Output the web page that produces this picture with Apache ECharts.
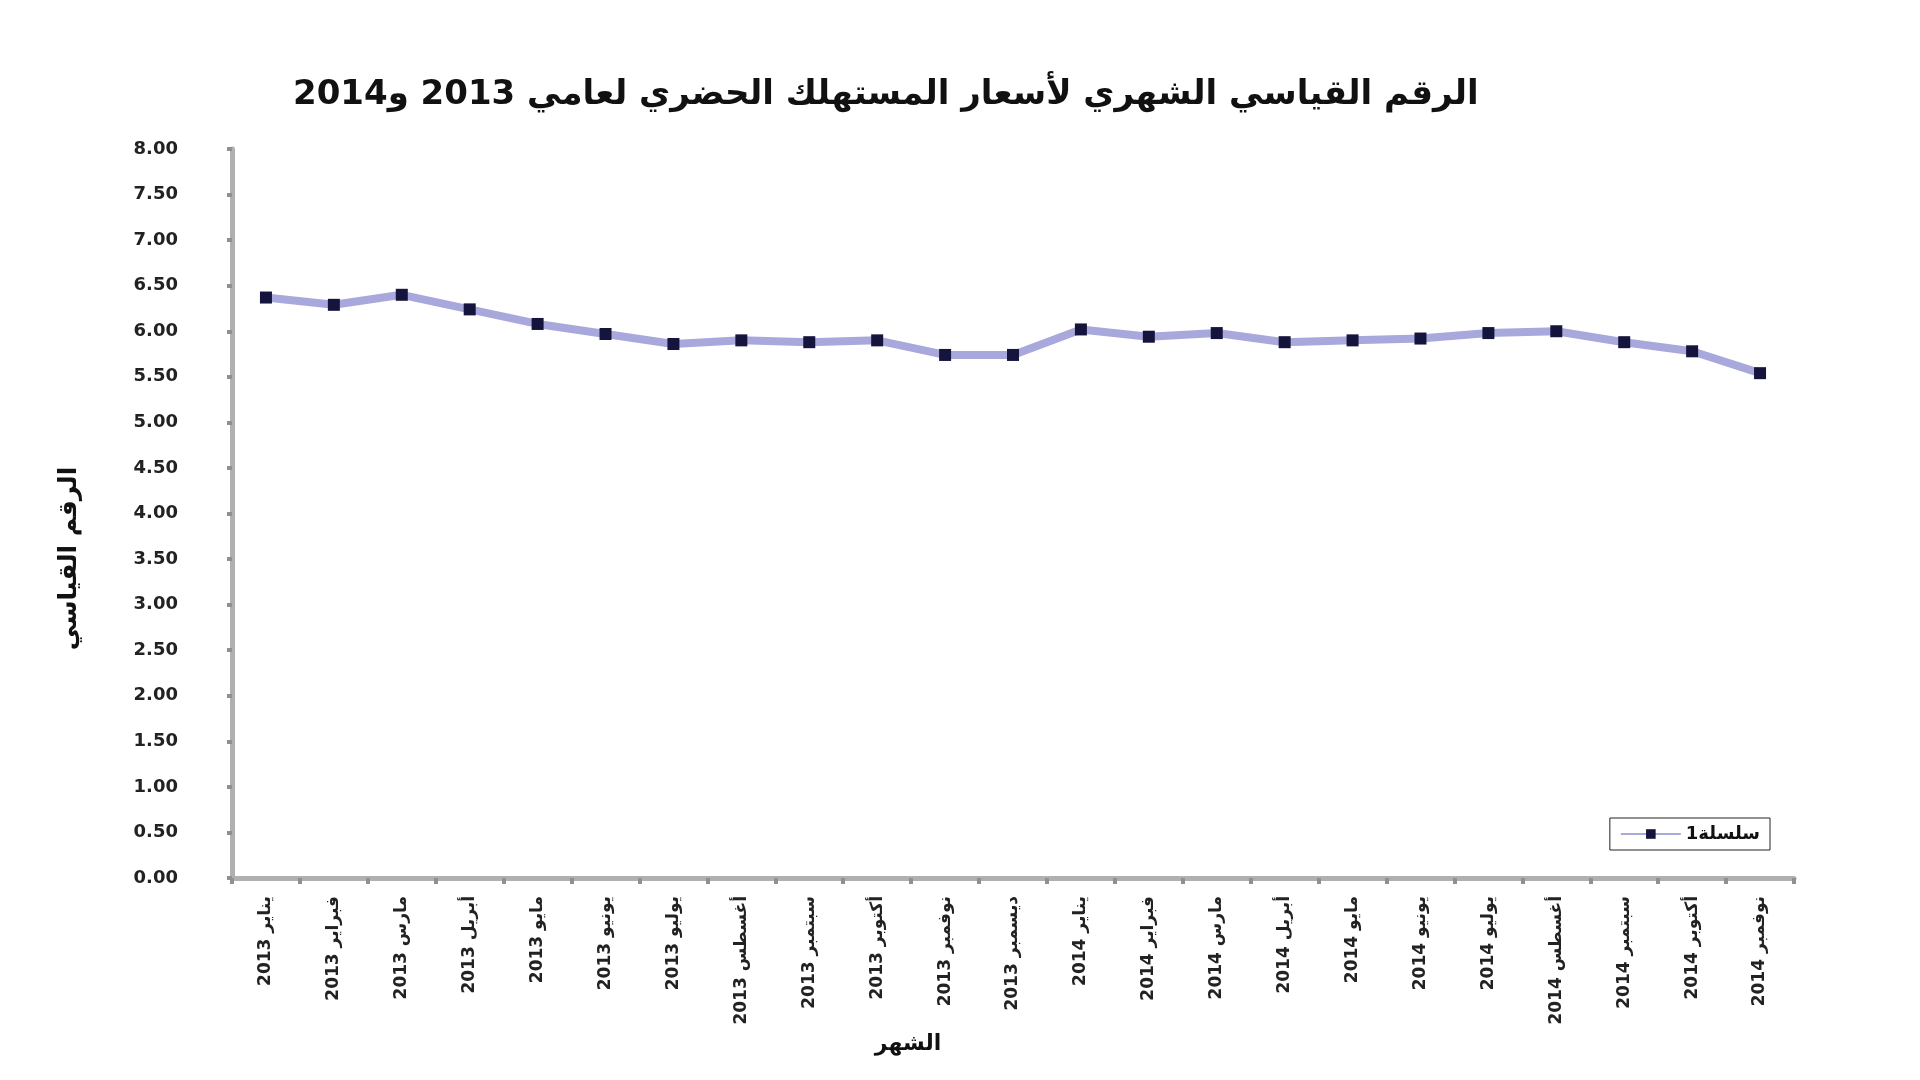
<!DOCTYPE html>
<html>
<head>
<meta charset="utf-8">
<script src="https://cdn.jsdelivr.net/npm/echarts@6/dist/echarts.min.js"></script>
<style>html,body{margin:0;padding:0;background:#fff}#c{width:1920px;height:1080px}</style>
</head>
<body>
<div id="c"></div>
<script>
const titleText = 'الرقم القياسي الشهري لأسعار المستهلك الحضري لعامي 2013 و2014';
const yAxisName = 'الرقم القياسي';
const xAxisName = 'الشهر';
const seriesName = 'سلسلة1';
const categories = [
  'يناير 2013','فبراير 2013','مارس 2013','أبريل 2013','مايو 2013','يونيو 2013',
  'يوليو 2013','أغسطس 2013','سبتمبر 2013','أكتوبر 2013','نوفمبر 2013','ديسمبر 2013',
  'يناير 2014','فبراير 2014','مارس 2014','أبريل 2014','مايو 2014','يونيو 2014',
  'يوليو 2014','أغسطس 2014','سبتمبر 2014','أكتوبر 2014','نوفمبر 2014'
];
const values = [6.37, 6.29, 6.40, 6.24, 6.08, 5.97, 5.86, 5.90, 5.88, 5.90, 5.74, 5.74,
                6.02, 5.94, 5.98, 5.88, 5.90, 5.92, 5.98, 6.00, 5.88, 5.78, 5.54];
const yMin = 0, yMax = 8, yStep = 0.5;

const chart = echarts.init(document.getElementById('c'));
chart.setOption({
  backgroundColor: '#ffffff',
  animation: false,
  title: {
    text: titleText, left: 288, top: 73,
    textStyle: { fontFamily: 'DejaVu Sans', fontSize: 34, fontWeight: 'bold', color: '#111' }
  },
  legend: {
    right: 150, bottom: 230, orient: 'horizontal',
    itemWidth: 60, itemHeight: 12,
    borderColor: '#222', borderWidth: 1, padding: [7, 10],
    textStyle: { fontFamily: 'DejaVu Sans', fontSize: 18, fontWeight: 'bold', color: '#111' },
    data: [seriesName]
  },
  grid: { left: 232, right: 126, top: 149, bottom: 202 },
  xAxis: {
    type: 'category', data: categories, boundaryGap: true,
    name: xAxisName, nameLocation: 'middle', nameGap: 155,
    nameTextStyle: { fontFamily: 'DejaVu Sans', fontSize: 22, fontWeight: 'bold', color: '#111', padding: [0, 210, 0, 0] },
    axisLine: { lineStyle: { color: '#b0b0b0', width: 5 } },
    axisTick: { show: true, alignWithLabel: false, length: 6, lineStyle: { color: '#909090', width: 4 } },
    axisLabel: { interval: 0, rotate: 90, margin: 18,
      fontFamily: 'DejaVu Sans', fontSize: 17, fontWeight: 'bold', color: '#222' },
    splitLine: { show: false }
  },
  yAxis: {
    type: 'value', min: yMin, max: yMax, interval: yStep,
    name: yAxisName, nameLocation: 'middle', nameGap: 150, nameRotate: 90,
    nameTextStyle: { fontFamily: 'DejaVu Sans', fontSize: 25, fontWeight: 'bold', color: '#111', padding: [0, 90, 0, 0] },
    axisLine: { show: true, lineStyle: { color: '#b0b0b0', width: 5 } },
    axisTick: { show: true, length: 5, lineStyle: { color: '#909090', width: 4 } },
    axisLabel: { margin: 54, formatter: v => v.toFixed(2),
      fontFamily: 'DejaVu Sans', fontSize: 18, fontWeight: 'bold', color: '#222' },
    splitLine: { show: false }
  },
  series: [{
    name: seriesName, type: 'line', data: values,
    symbol: 'rect', symbolSize: 12,
    itemStyle: { color: '#14143c' },
    lineStyle: { color: '#a8a8dc', width: 8 }
  }]
});
</script>
</body>
</html>
